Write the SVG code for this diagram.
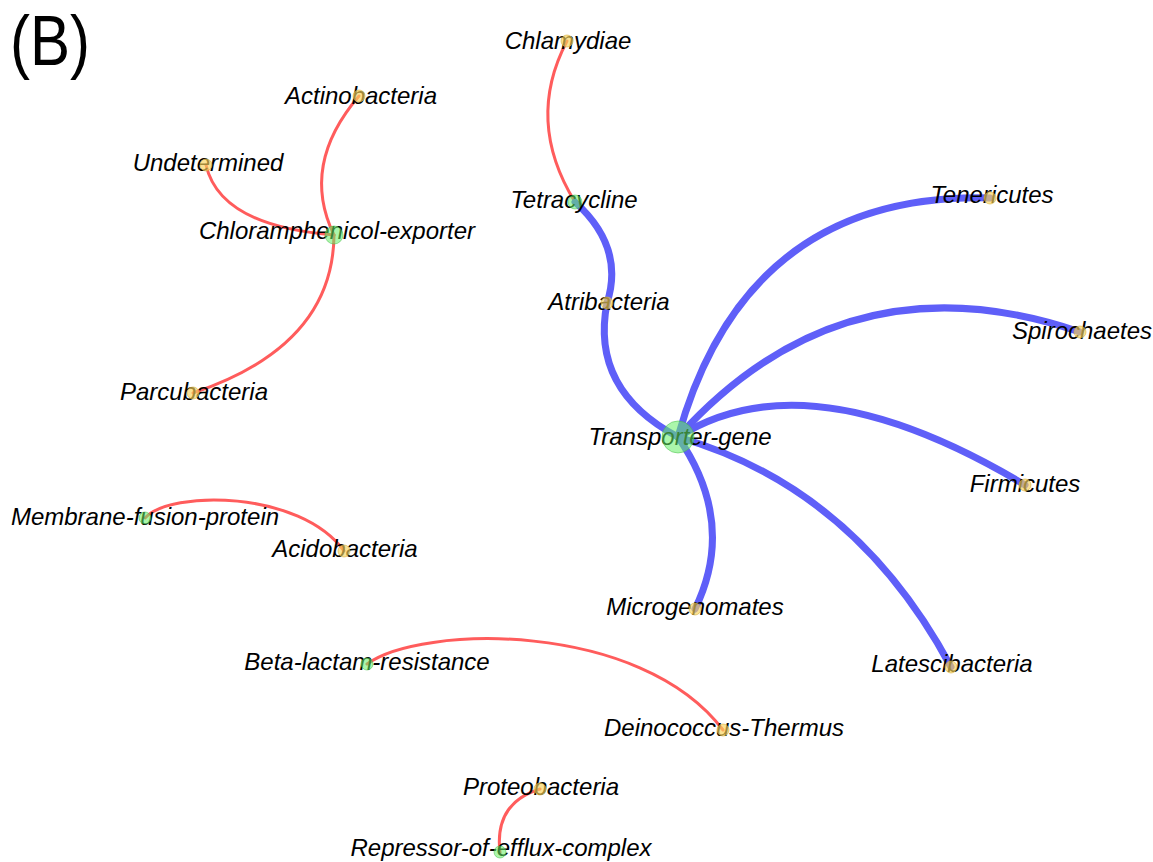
<svg xmlns="http://www.w3.org/2000/svg" width="1153" height="862" viewBox="0 0 1153 862">
<style>
.bg{fill:#ffffff}
.red{fill:none;stroke:#ff5c5c;stroke-width:3;stroke-linecap:round}
.blue{fill:none;stroke:#5f5ff8;stroke-width:7;stroke-linecap:round}
.lbl{font-family:"Liberation Sans",Arial,sans-serif;font-style:italic;font-size:24px;fill:#000;text-anchor:middle}
.g{fill:#66ee66;fill-opacity:0.55;stroke:#44bb44;stroke-opacity:0.5;stroke-width:1}
.y{fill:#f7d25a;fill-opacity:0.65;stroke:#d8b040;stroke-opacity:0.6;stroke-width:1}
.title{font-family:"Liberation Sans",Arial,sans-serif;font-size:70px;fill:#000}
</style>
<rect class="bg" x="0" y="0" width="1153" height="862"/>
<text class="title" x="10" y="65" textLength="80" lengthAdjust="spacingAndGlyphs">(B)</text>
<g id="connectors">
<path class="red" d="M334,235 Q300,165 359,96"/>
<path class="red" d="M334,235 Q220,226 206,165"/>
<path class="red" d="M334,235 Q333,346 193,393"/>
<path class="red" d="M575,202 Q525,121 567,41"/>
<path class="red" d="M145,518 C170,490 300,490 344,551"/>
<path class="red" d="M367,664 C420,625 640,620 723,730"/>
<path class="red" d="M500,853 Q494,803 540,789"/>
<path class="blue" d="M575,202 Q625,247 607,303"/>
<path class="blue" d="M607,303 Q590,390 678,437"/>
<path class="blue" d="M678,437 Q746,192 990,198"/>
<path class="blue" d="M678,437 Q845,252 1080,332"/>
<path class="blue" d="M678,437 Q808,355 1025,485"/>
<path class="blue" d="M678,437 Q855,488 951,667"/>
<path class="blue" d="M678,437 Q737,523 695,609"/>
</g>
<g id="n-chlamydiae"><text class="lbl" x="568" y="49">Chlamydiae</text><circle class="y" cx="567" cy="41" r="6"/></g>
<g id="n-tetracycline"><text class="lbl" x="574" y="208">Tetracycline</text><circle class="g" cx="575" cy="202" r="7"/></g>
<g id="n-atribacteria"><text class="lbl" x="609" y="310">Atribacteria</text><circle class="y" cx="607" cy="303" r="6"/></g>
<g id="n-transporter"><text class="lbl" x="680" y="445">Transporter-gene</text><circle class="g" cx="678" cy="437" r="16"/></g>
<g id="n-tenericutes"><text class="lbl" x="992" y="203">Tenericutes</text><circle class="y" cx="990" cy="198" r="6"/></g>
<g id="n-spirochaetes"><text class="lbl" x="1082" y="339">Spirochaetes</text><circle class="y" cx="1080" cy="332" r="6"/></g>
<g id="n-firmicutes"><text class="lbl" x="1025" y="492">Firmicutes</text><circle class="y" cx="1025" cy="485" r="6"/></g>
<g id="n-microgenomates"><text class="lbl" x="695" y="615">Microgenomates</text><circle class="y" cx="695" cy="609" r="6"/></g>
<g id="n-latescibacteria"><text class="lbl" x="952" y="672">Latescibacteria</text><circle class="y" cx="951" cy="667" r="6"/></g>
<g id="n-actinobacteria"><text class="lbl" x="361" y="104">Actinobacteria</text><circle class="y" cx="359" cy="96" r="6"/></g>
<g id="n-undetermined"><text class="lbl" x="208" y="171">Undetermined</text><circle class="y" cx="206" cy="165" r="6"/></g>
<g id="n-chloramphenicol"><text class="lbl" x="337" y="239">Chloramphenicol-exporter</text><circle class="g" cx="334" cy="235" r="9"/></g>
<g id="n-parcubacteria"><text class="lbl" x="194" y="400">Parcubacteria</text><circle class="y" cx="193" cy="393" r="6"/></g>
<g id="n-membrane"><text class="lbl" x="145" y="525">Membrane-fusion-protein</text><circle class="g" cx="145" cy="518" r="6"/></g>
<g id="n-acidobacteria"><text class="lbl" x="345" y="557">Acidobacteria</text><circle class="y" cx="344" cy="551" r="6"/></g>
<g id="n-betalactam"><text class="lbl" x="367" y="670">Beta-lactam-resistance</text><circle class="g" cx="367" cy="664" r="6"/></g>
<g id="n-deinococcus"><text class="lbl" x="724" y="736">Deinococcus-Thermus</text><circle class="y" cx="723" cy="730" r="6"/></g>
<g id="n-proteobacteria"><text class="lbl" x="541" y="795">Proteobacteria</text><circle class="y" cx="540" cy="789" r="6"/></g>
<g id="n-repressor"><text class="lbl" x="501" y="856">Repressor-of-efflux-complex</text><circle class="g" cx="500" cy="852" r="6"/></g>
</svg>
